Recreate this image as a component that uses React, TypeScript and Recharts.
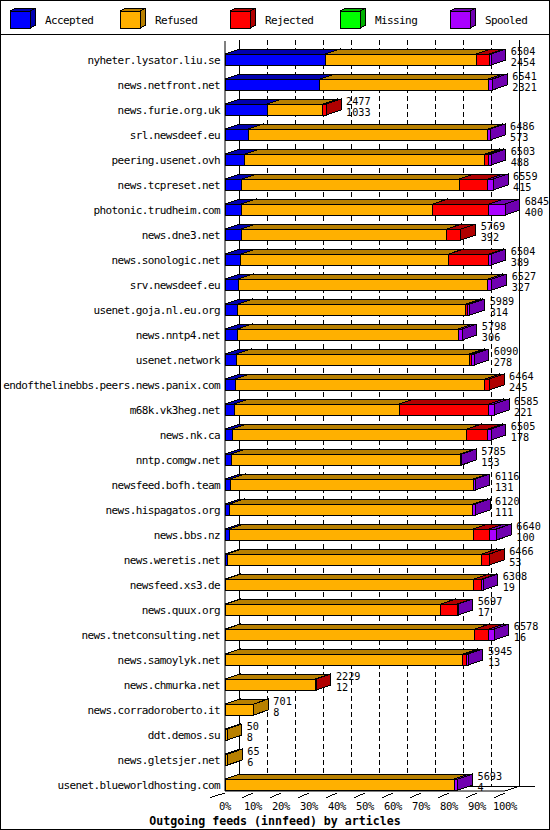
import React from 'react'
import { BarChart, Bar, XAxis, YAxis, CartesianGrid, LabelList } from 'recharts'

const hosts = [
  'nyheter.lysator.liu.se', 'news.netfront.net', 'news.furie.org.uk', 'srl.newsdeef.eu',
  'peering.usenet.ovh', 'news.tcpreset.net', 'photonic.trudheim.com', 'news.dne3.net',
  'news.sonologic.net', 'srv.newsdeef.eu', 'usenet.goja.nl.eu.org', 'news.nntp4.net',
  'usenet.network', 'endofthelinebbs.peers.news.panix.com', 'm68k.vk3heg.net', 'news.nk.ca',
  'nntp.comgw.net', 'newsfeed.bofh.team', 'news.hispagatos.org', 'news.bbs.nz',
  'news.weretis.net', 'newsfeed.xs3.de', 'news.quux.org', 'news.tnetconsulting.net',
  'news.samoylyk.net', 'news.chmurka.net', 'news.corradoroberto.it', 'ddt.demos.su',
  'news.gletsjer.net', 'usenet.blueworldhosting.com',
]

const totals = [6504, 6541, 2477, 6486, 6503, 6559, 6845, 5769, 6504, 6527, 5989, 5798, 6090, 6464, 6585,
  6505, 5785, 6116, 6120, 6640, 6466, 6308, 5697, 6578, 5945, 2229, 701, 50, 65, 5693]
const accepted = [2454, 2321, 1033, 573, 488, 415, 400, 392, 389, 327, 314, 306, 278, 245, 221,
  178, 153, 131, 111, 100, 53, 19, 17, 16, 13, 12, 8, 8, 6, 4]
const refused = [3690, 4110, 1360, 5853, 5865, 5312, 4680, 5030, 5081, 6100, 5574, 5395, 5701, 6108, 4035,
  5733, 5598, 5939, 5949, 5968, 6225, 6064, 5258, 6091, 5802, 2200, 693, 42, 59, 5600]
const rejected = [310, 0, 84, 0, 90, 701, 1372, 347, 980, 0, 50, 0, 40, 111, 2195,
  514, 0, 0, 0, 392, 188, 195, 400, 343, 80, 17, 0, 0, 0, 0]
const missing = [0, 0, 0, 0, 0, 0, 0, 0, 0, 0, 0, 0, 0, 0, 0,
  0, 0, 0, 0, 0, 0, 0, 0, 0, 0, 0, 0, 0, 0, 0]
const spooled = [50, 110, 0, 60, 60, 131, 393, 0, 54, 100, 51, 97, 71, 0, 134,
  80, 34, 46, 60, 180, 0, 30, 22, 128, 50, 0, 0, 0, 0, 89]

const tickPercents = [0, 10, 20, 30, 40, 50, 60, 70, 80, 90, 100]

const series = [
  { key: 'accepted', name: 'Accepted', front: '#0000ff', dark: '#0000b0' },
  { key: 'refused', name: 'Refused', front: '#ffb000', dark: '#b88000' },
  { key: 'rejected', name: 'Rejected', front: '#ff0000', dark: '#b00000' },
  { key: 'missing', name: 'Missing', front: '#00ff00', dark: '#00b000' },
  { key: 'spooled', name: 'Spooled', front: '#aa00ff', dark: '#7000b0' },
]

const rows = hosts.map((host, i) => ({
  host,
  accepted: accepted[i],
  refused: refused[i],
  rejected: rejected[i],
  missing: missing[i],
  spooled: spooled[i],
}))

const maxTotal = Math.max(...totals)
const ticks = tickPercents.map((p) => (maxTotal * p) / 100)

const W = 550
const H = 830
// depth of the fake 3d boxes
const DX = 14.7
const DY = 5
// bars sit at the bottom of their band, not centred
const SHIFT = 6
const PLOT_LEFT = 225
const PLOT_RIGHT = 505
const PLOT_TOP = 41
const PLOT_BOTTOM = 791
const FONT = '"DejaVu Sans Mono", monospace'
const FS = 11
const LS = -0.6

function box3d(key: string, front: string, dark: string) {
  return (props: any) => {
    const { x, y, width, height, payload } = props
    if (!payload || !payload[key] || width == null) return <g />
    const fy = y + SHIFT
    const w = Math.max(width, 0)
    return (
      <g shapeRendering="crispEdges" stroke="#000" strokeWidth={1}>
        <polygon
          points={`${x},${fy} ${x + DX},${fy - DY} ${x + w + DX},${fy - DY} ${x + w},${fy}`}
          fill={dark}
        />
        <polygon
          points={`${x + w},${fy} ${x + w + DX},${fy - DY} ${x + w + DX},${fy + height - DY} ${x + w},${fy + height}`}
          fill={dark}
        />
        <rect x={x} y={fy} width={w} height={height} fill={front} />
      </g>
    )
  }
}

// total on top, accepted underneath, right of the box
const renderTotals = (p: any) => {
  const vb = p.viewBox ?? p
  const i = p.index
  const tx = vb.x + vb.width + DX + 5
  const fy = vb.y + SHIFT
  return (
    <g fontFamily={FONT} fontSize={10.2} fill="#000">
      <text x={tx} y={fy + 0.5}>{totals[i]}</text>
      <text x={tx} y={fy + 12.4}>{accepted[i]}</text>
    </g>
  )
}

const HostTick = (p: any) => (
  <text x={p.x} y={p.y + 10} textAnchor="end" fontFamily={FONT} fontSize={FS} letterSpacing={LS} fill="#000">
    {p.payload.value}
  </text>
)

const PercentTick = (p: any) => {
  const len = p.index === 0 ? 15 : 10.5
  return (
    <g>
      <line x1={p.x} y1={p.y} x2={p.x - len} y2={p.y + 4.5} stroke="#000" shapeRendering="crispEdges" />
      <text x={p.x} y={p.y + 17} textAnchor="middle" fontFamily={FONT} fontSize={10.5} letterSpacing={-0.3} fill="#000">
        {tickPercents[p.index]}%
      </text>
    </g>
  )
}

const gridLine = (p: any) => {
  const solid = p.index === 0 || p.index === tickPercents.length - 1
  return (
    <line
      key={`g-${p.index}`}
      x1={p.x1 + DX}
      x2={p.x2 + DX}
      y1={p.y1 - 1}
      y2={p.y2 - DY}
      stroke="#000"
      strokeDasharray={solid ? undefined : '5 3'}
      shapeRendering="crispEdges"
    />
  )
}

function Backdrop() {
  return (
    <svg width={W} height={H} style={{ position: 'absolute', left: 0, top: 0 }}>
      <rect x={0.5} y={0.5} width={W - 1} height={H - 1} fill="#fff" stroke="#000" />
      <line x1={0} x2={W} y1={34.5} y2={34.5} stroke="#000" />
      {series.map((s, i) => {
        const x = 10 + i * 110
        return (
          <g key={s.key}>
            <g stroke="#000" shapeRendering="crispEdges">
              <polygon points={`${x},11 ${x + 5},8.5 ${x + 25},8.5 ${x + 20},11`} fill={s.dark} />
              <polygon points={`${x + 20},11 ${x + 25},8.5 ${x + 25},25.5 ${x + 20},28}`} fill={s.dark} />
              <rect x={x} y={11} width={20} height={17} fill={s.front} />
            </g>
            <text x={x + 35} y={24} fontFamily={FONT} fontSize={FS} letterSpacing={LS} fill="#000">
              {s.name}
            </text>
          </g>
        )
      })}
      <g stroke="#000" shapeRendering="crispEdges">
        <line x1={PLOT_LEFT + DX} x2={535} y1={PLOT_BOTTOM - DY} y2={PLOT_BOTTOM - DY} />
        <line x1={PLOT_LEFT} x2={PLOT_LEFT + DX} y1={PLOT_BOTTOM} y2={PLOT_BOTTOM - DY} />
        <line x1={PLOT_RIGHT} x2={PLOT_RIGHT + DX} y1={PLOT_BOTTOM} y2={PLOT_BOTTOM - DY} />
      </g>
      <text
        x={W / 2}
        y={824.5}
        textAnchor="middle"
        fontFamily={FONT}
        fontSize={11.6}
        fontWeight="bold"
        fill="#000"
      >
        Outgoing feeds (innfeed) by articles
      </text>
    </svg>
  )
}

export default function App() {
  return (
    <div style={{ position: 'absolute', left: 0, top: 0, width: W, height: H }}>
      <Backdrop />
      <div style={{ position: 'absolute', left: 0, top: 0 }}>
        <BarChart
          width={W}
          height={H}
          data={rows}
          layout="vertical"
          barSize={11}
          barCategoryGap={0}
          margin={{ top: PLOT_TOP, right: W - PLOT_RIGHT, left: 10, bottom: 9 }}
        >
          <CartesianGrid horizontal={false} vertical={gridLine} />
          <XAxis
            type="number"
            domain={[0, maxTotal]}
            ticks={ticks}
            interval={0}
            height={H - 9 - PLOT_BOTTOM}
            tickSize={0}
            tickLine={false}
            axisLine={{ stroke: '#000' }}
            tick={PercentTick}
          />
          <YAxis
            type="category"
            dataKey="host"
            width={PLOT_LEFT - 10}
            tickSize={0}
            tickMargin={5}
            tickLine={false}
            axisLine={{ stroke: '#000' }}
            interval={0}
            tick={HostTick}
          />
          {series.map((s) => (
            <Bar
              key={s.key}
              dataKey={s.key}
              stackId="feeds"
              isAnimationActive={false}
              shape={box3d(s.key, s.front, s.dark)}
            >
              {s.key === 'spooled' && <LabelList dataKey="spooled" content={renderTotals} />}
            </Bar>
          ))}
        </BarChart>
      </div>
    </div>
  )
}
